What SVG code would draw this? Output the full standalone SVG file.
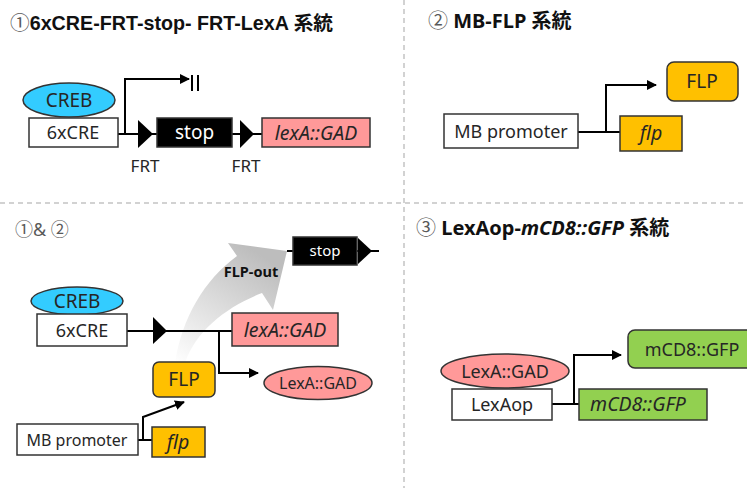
<svg xmlns="http://www.w3.org/2000/svg" width="747" height="488" viewBox="0 0 747 488">
<style>
text{font-family:"Noto Sans","Noto Sans CJK JP",sans-serif;fill:#262626}
.t{font-weight:bold;font-size:20px;fill:#111}
.num{font-family:"Noto Sans CJK JP",sans-serif;fill:#595959;font-weight:normal}
.cjk{font-family:"Noto Sans CJK JP",sans-serif}
.lbl{font-size:18px;text-anchor:middle}
.sm{font-size:16px;text-anchor:middle}
.it{font-style:italic;font-size:19.5px}
.box{stroke:#333;stroke-width:1.5}
.w{fill:#fff}
.pink{fill:#FF9999}
.cyan{fill:#33CCFF}
.org{fill:#FFC000}
.grn{fill:#92D050}
.blk{fill:#000}
.ln{fill:none;stroke:#000;stroke-width:2}
.arr{fill:none;stroke:#000;stroke-width:2;marker-end:url(#ah)}
.dash{stroke:#c3c3c3;stroke-width:1.5;stroke-dasharray:5 4;fill:none}
</style>
<defs>
<marker id="ah" viewBox="0 0 10 10" refX="9" refY="5" markerWidth="5" markerHeight="5" markerUnits="strokeWidth" orient="auto">
<path d="M0 0L10 5L0 10Z" fill="#000"/>
</marker>
<linearGradient id="gg" x1="0" y1="1" x2="0.6" y2="0">
<stop offset="0" stop-color="#ffffff"/>
<stop offset="1" stop-color="#bdbdbd"/>
</linearGradient>
</defs>

<g id="dividers">
<line class="dash" x1="404" y1="0" x2="404" y2="488"/>
<line class="dash" x1="0" y1="203" x2="747" y2="203"/>
</g>

<g id="titles">
<text x="10" y="30" class="t" style="font-family:'Liberation Sans','Noto Sans CJK JP',sans-serif;font-size:19.7px"><tspan class="num">①</tspan>6xCRE-FRT-stop- FRT-LexA <tspan class="cjk">系統</tspan></text>
<text x="428" y="28" class="t"><tspan class="num">②</tspan> MB-FLP <tspan class="cjk">系統</tspan></text>
<text x="15" y="236" style="font-size:18px;fill:#595959"><tspan class="num">①</tspan>&amp; <tspan class="num">②</tspan></text>
<text x="416" y="235" class="t"><tspan class="num">③</tspan> LexAop-<tspan font-style="italic">mCD8::GFP</tspan> <tspan class="cjk">系統</tspan></text>
</g>

<g id="flp-out">
<path d="M175 363C182 318 204 280 237 256L228 243L287 251L273 310L262 293C228 306 196 330 185 363Z" fill="url(#gg)"/>
<text x="251" y="277" style="font-size:14.5px;font-weight:bold;text-anchor:middle;fill:#111">FLP-out</text>
</g>

<g id="connectors">
<line class="ln" x1="118" y1="134" x2="262" y2="134"/>
<path class="arr" d="M125 134V79H189"/>
<line class="ln" x1="192" y1="75" x2="192" y2="91"/>
<line class="ln" x1="198" y1="75" x2="198" y2="91"/>
<line class="ln" x1="578" y1="132" x2="620" y2="132"/>
<path class="arr" d="M606 132V85H656"/>
<line class="ln" x1="127" y1="331" x2="232" y2="331"/>
<path class="arr" d="M219 331V373H258"/>
<line class="ln" x1="138" y1="440" x2="152" y2="440"/>
<path class="arr" d="M143 440V417L184 402"/>
<line class="ln" x1="287" y1="251" x2="379" y2="251"/>
<line class="ln" x1="552" y1="404" x2="579" y2="404"/>
<path class="arr" d="M574 404V355H621"/>
</g>

<g id="creb1"><ellipse class="box cyan" cx="69" cy="100" rx="46" ry="17"/><text class="lbl" x="69" y="107" style="font-size:19px">CREB</text></g>
<g id="cre1"><rect class="box w" x="29" y="118" width="89" height="29"/><text class="lbl" x="73" y="139">6xCRE</text></g>
<g id="frt1"><path d="M138 120L153 134L138 148Z" fill="#000"/><text class="sm" x="145" y="172" style="font-size:17px">FRT</text></g>
<g id="stop1"><rect class="box blk" x="157" y="118" width="75" height="29"/><text class="lbl" x="194.5" y="139" style="fill:#fff;font-size:19px">stop</text></g>
<g id="frt2"><path d="M240 120L254 134L240 148Z" fill="#000"/><text class="sm" x="246" y="172" style="font-size:17px">FRT</text></g>
<g id="lexa1"><rect class="box pink" x="262" y="118" width="108" height="29"/><text class="lbl it" x="316" y="140">lexA::GAD</text></g>

<g id="mb2"><rect class="box w" x="444" y="114" width="134" height="34"/><text class="lbl" x="511" y="138">MB promoter</text></g>
<g id="flpgene2"><rect class="box org" x="620" y="116" width="62" height="35"/><text class="lbl it" x="651" y="140">flp</text></g>
<g id="flpprot2"><rect class="box org" x="667" y="62" width="71" height="39" rx="7"/><text class="lbl" x="702" y="88" style="font-size:19px">FLP</text></g>

<g id="creb3"><ellipse class="box cyan" cx="77" cy="301" rx="46" ry="14"/><text class="lbl" x="77" y="308" style="font-size:19px">CREB</text></g>
<g id="cre3"><rect class="box w" x="37" y="314" width="90" height="32"/><text class="lbl" x="82" y="337">6xCRE</text></g>
<g id="frt3"><path d="M153 317L167 331L153 344Z" fill="#000"/></g>
<g id="lexa3"><rect class="box pink" x="232" y="313" width="106" height="33"/><text class="lbl it" x="285" y="337">lexA::GAD</text></g>
<g id="lexaprot3"><ellipse class="box pink" cx="318" cy="383" rx="54" ry="16.5"/><text class="sm" x="318" y="389">LexA::GAD</text></g>
<g id="flpprot3"><rect class="box org" x="153" y="362" width="62" height="35" rx="6"/><text class="lbl" x="184" y="386" style="font-size:19px">FLP</text></g>
<g id="mb3"><rect class="box w" x="17" y="424" width="121" height="31"/><text class="sm" x="77" y="446">MB promoter</text></g>
<g id="flpgene3"><rect class="box org" x="152" y="427" width="53" height="30"/><text class="lbl it" x="178" y="449">flp</text></g>
<g id="stop3"><rect class="box blk" x="293" y="237" width="64" height="28"/><path d="M358 238L372 251L358 264Z" fill="#000"/><text x="325" y="256" style="font-size:15px;text-anchor:middle;fill:#fff">stop</text></g>

<g id="lexaprot4"><ellipse class="box pink" cx="505" cy="371" rx="64" ry="17"/><text class="lbl" x="505" y="378">LexA::GAD</text></g>
<g id="lexaop4"><rect class="box w" x="452" y="389" width="100" height="31"/><text class="lbl" x="502" y="411">LexAop</text></g>
<g id="gfpgene4"><rect class="box grn" x="579" y="389" width="128" height="31"/><text class="lbl it" x="638" y="411">mCD8::GFP</text></g>
<g id="gfpprot4"><rect class="box grn" x="628" y="330" width="130" height="38" rx="7"/><text class="lbl" x="692" y="356">mCD8::GFP</text></g>
</svg>
